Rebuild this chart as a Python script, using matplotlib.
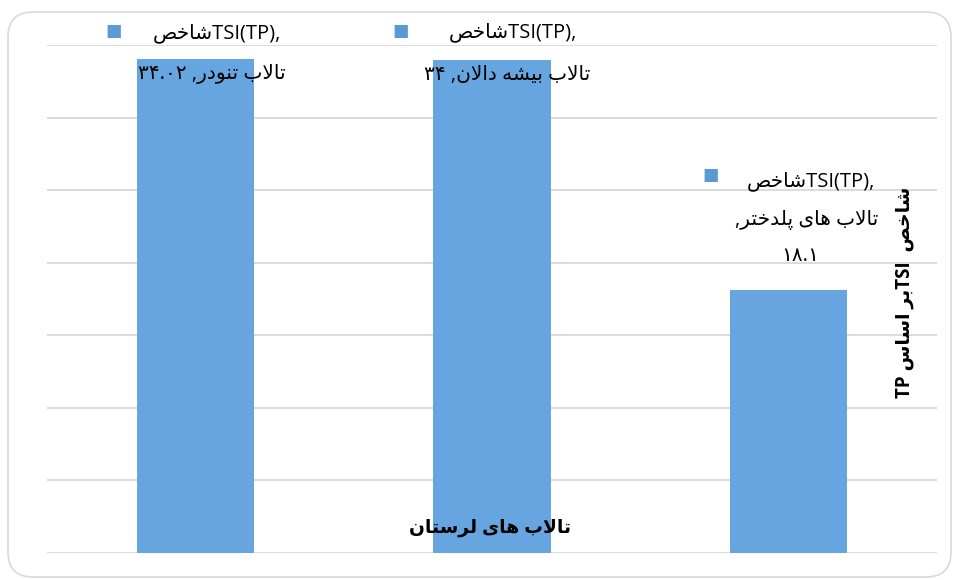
import matplotlib
matplotlib.use("Agg")
import matplotlib.pyplot as plt
from matplotlib.patches import FancyBboxPatch

# data
lakes = ["تالاب تنودر", "تالاب بیشه دالان", "تالاب های پلدختر"]
values = [34.02, 34, 18.1]
series_name = "شاخص"
series_latin = "TSI(TP),"
x_title = "تالاب های لرستان"
y_title_fa = ["شاخص", "بر اساس"]
y_ticks = [0, 5, 10, 15, 20, 25, 30, 35]

# label offsets (pixels from bar top): text line1, marker, line2, line3
label_offsets = [
    [(22, 26), (-82, 27), (17, -15), None],
    [(21, 27), (-91, 28), (15, -15), None],
    [(22, 109), (-78, 114), (18, 70), (12, 34)],
]

# minimal Persian shaping (matplotlib does no arabic shaping / bidi)
FORMS = {
    "ا": ("\uFE8D", "\uFE8E"),
    "ب": ("\uFE8F", "\uFE90", "\uFE91", "\uFE92"),
    "پ": ("\uFB56", "\uFB57", "\uFB58", "\uFB59"),
    "ت": ("\uFE95", "\uFE96", "\uFE97", "\uFE98"),
    "خ": ("\uFEA5", "\uFEA6", "\uFEA7", "\uFEA8"),
    "د": ("\uFEA9", "\uFEAA"),
    "ر": ("\uFEAD", "\uFEAE"),
    "س": ("\uFEB1", "\uFEB2", "\uFEB3", "\uFEB4"),
    "ش": ("\uFEB5", "\uFEB6", "\uFEB7", "\uFEB8"),
    "ص": ("\uFEB9", "\uFEBA", "\uFEBB", "\uFEBC"),
    "ل": ("\uFEDD", "\uFEDE", "\uFEDF", "\uFEE0"),
    "ن": ("\uFEE5", "\uFEE6", "\uFEE7", "\uFEE8"),
    "ه": ("\uFEE9", "\uFEEA", "\uFEEB", "\uFEEC"),
    "و": ("\uFEED", "\uFEEE"),
    "ی": ("\uFEEF", "\uFEF0", "\uFEF3", "\uFEF4"),
}


def dual(c):
    return c in FORMS and len(FORMS[c]) == 4


def vis(s):
    out = []
    n = len(s)
    i = 0
    while i < n:
        c = s[i]
        if c not in FORMS:
            out.append(c)
            i += 1
            continue
        link_prev = i > 0 and dual(s[i - 1])
        if c == "ل" and i + 1 < n and s[i + 1] == "ا":
            out.append("\uFEFC" if link_prev else "\uFEFB")
            i += 2
            continue
        link_next = dual(c) and i + 1 < n and s[i + 1] in FORMS
        f = FORMS[c]
        if link_prev and link_next:
            g = f[3]
        elif link_prev:
            g = f[1]
        elif link_next:
            g = f[2]
        else:
            g = f[0]
        out.append(g)
        i += 1
    return "".join(out)[::-1]


def fa_num(v):
    s = ("%g" % v)
    return s.translate(str.maketrans("0123456789", "۰۱۲۳۴۵۶۷۸۹"))


plt.rcParams["font.family"] = ["Open Sans", "DejaVu Sans"]

fig = plt.figure(figsize=(9.55, 5.8), dpi=100)
ax = fig.add_axes([47 / 955, 27 / 580, 890 / 955, 508 / 580])

border = FancyBboxPatch((0.08, 0.03), 9.43, 5.65, boxstyle="round,pad=0,rounding_size=0.25",
                        transform=fig.dpi_scale_trans, fc="none", ec="#D9D9D9", lw=1.2)
fig.patches.append(border)

xs = list(range(len(values)))
ax.bar(xs, values, width=0.395, color="#66A5E0", zorder=2)
ax.set_xlim(-0.5, 2.5)
ax.set_ylim(0, 35)
ax.set_yticks(y_ticks)
ax.set_yticklabels([])
ax.set_xticks([])
ax.tick_params(length=0)
ax.grid(axis="y", color="#D9D9D9", lw=1.3, zorder=0)
ax.set_axisbelow(True)
for sp in ax.spines.values():
    sp.set_visible(False)

fs = 14.5
for i, (lake, v) in enumerate(zip(lakes, values)):
    off = label_offsets[i]
    ax.annotate(vis(series_name) + series_latin, (i, v), xytext=off[0], textcoords="offset pixels",
                ha="center", va="center", fontsize=fs, zorder=5)
    ax.annotate("■", (i, v), xytext=off[1], textcoords="offset pixels",
                ha="center", va="center", fontsize=12.5, color="#5B9BD5", zorder=5)
    if off[3] is None:
        ax.annotate(fa_num(v) + " ," + vis(lake), (i, v), xytext=off[2], textcoords="offset pixels",
                    ha="center", va="center", fontsize=fs, zorder=5)
    else:
        ax.annotate("," + vis(lake), (i, v), xytext=off[2], textcoords="offset pixels",
                    ha="center", va="center", fontsize=fs, zorder=5)
        ax.annotate(fa_num(v), (i, v), xytext=off[3], textcoords="offset pixels",
                    ha="center", va="center", fontsize=fs, zorder=0.4)

fig.text(490 / 955, 1 - 528 / 580, vis(x_title), ha="center", va="center",
         fontsize=13.5, fontweight="bold")
ytxt = "TP " + vis(y_title_fa[1]) + "TSI  " + vis(y_title_fa[0])
fig.text(905 / 955, 1 - 292 / 580, ytxt, ha="center", va="center", rotation=90,
         fontsize=13.5, fontweight="bold")

fig.savefig("out.png", dpi=100)
